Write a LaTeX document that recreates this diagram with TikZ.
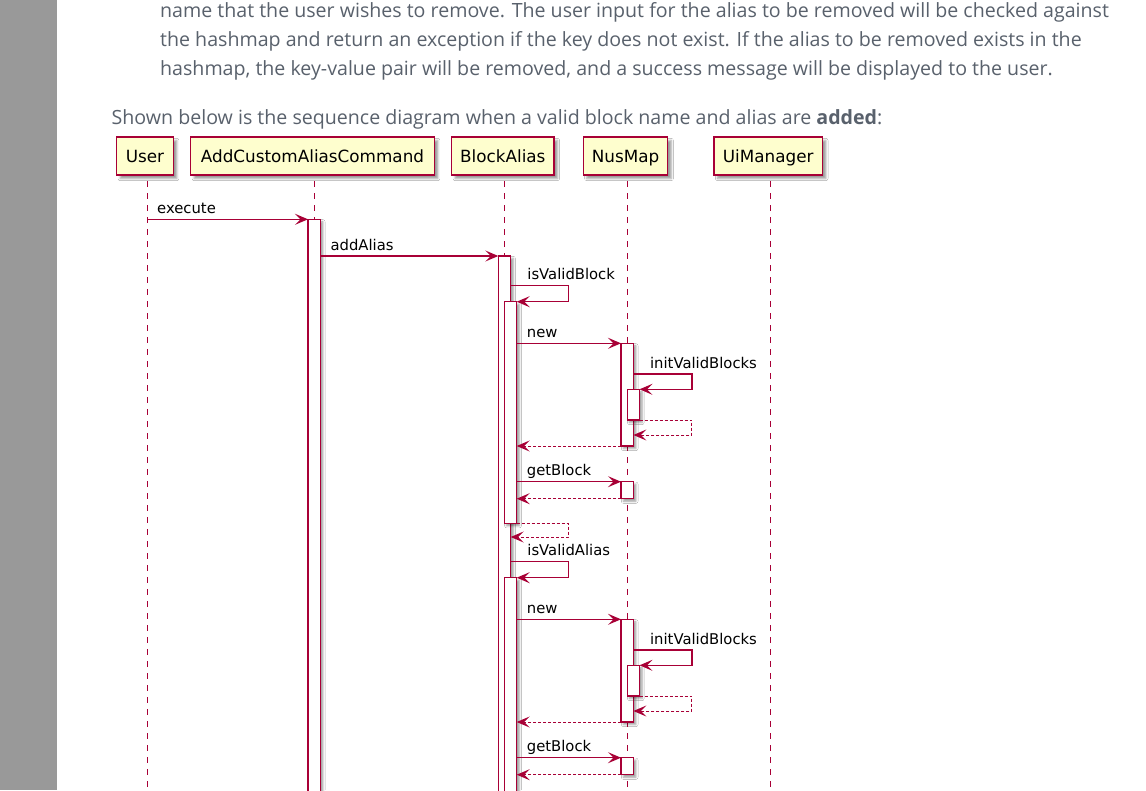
\documentclass[tikz,border=0pt]{standalone}
\usepackage{fontspec}
\setmainfont{Open Sans}
\newfontfamily\umlfont{DejaVu Sans}
\usepackage{tikz}
\usetikzlibrary{arrows.meta, calc, shadows.blur}
\definecolor{umlred}{HTML}{A80036}
\definecolor{umlfill}{HTML}{FEFECE}
\definecolor{pagegray}{HTML}{999999}
\definecolor{bodytext}{HTML}{59616C}
\tikzset{participant/.style={draw=umlred, fill=umlfill, line width=1.5pt, minimum height=38pt, inner sep=0pt, outer sep=0pt,
    text height=14pt, text depth=2pt, font=\umlfont\fontsize{16.8}{18}\selectfont, blur shadow={shadow xshift=3.5pt, shadow yshift=-3.5pt}},
  actbar/.style={draw=umlred, fill=white, line width=1.2pt, minimum width=12.4pt, inner sep=0pt, outer sep=0pt, anchor=north,
    blur shadow={shadow xshift=2.5pt, shadow yshift=-2.5pt}},
  lifeline/.style={draw=umlred, line width=1pt, dash pattern=on 6pt off 6pt, dash phase=6pt},
  msg/.style={draw=umlred, line width=1.4pt, -{Stealth[length=13pt, width=11pt, inset=5.5pt]}},
  ret/.style={msg, line width=1pt, dash pattern=on 3pt off 2pt},
  msglbl/.style={anchor=base west, inner sep=0pt, xshift=#1, yshift=6pt, font=\umlfont\fontsize{14.8}{16}\selectfont, text=black},
  msglbl/.default=9.5pt,
  bodyline/.style={anchor=base west, inner sep=0pt, text=bodytext, font=\fontsize{19.6}{22}\selectfont}}

\begin{document}
\begin{tikzpicture}[x=1pt, y=-1pt]
    \fill[white] (0,0) rectangle (1146,790);
    \fill[pagegray] (0,0) rectangle (57.3,790);

    \node[bodyline] (para1) at (160,17) {name that the user wishes to remove. The user input for the alias to be removed will be checked against};
    \node[bodyline] (para2) at (160,46) {the hashmap and return an exception if the key does not exist. If the alias to be removed exists in the};
    \node[bodyline] (para3) at (160,75) {hashmap, the key-value pair will be removed, and a success message will be displayed to the user.};
    \node[bodyline] (intro) at (111.5,124) {Shown below is the sequence diagram when a valid block name and alias are \textbf{added}:};

    \node[participant, minimum width=56.6pt] (user) at (145,156) {User};
    \node[participant, minimum width=243.6pt] (command) at (312.5,156) {AddCustomAliasCommand};
    \node[participant, minimum width=102.3pt] (blockalias) at (502.8,156) {BlockAlias};
    \node[participant, minimum width=84.4pt] (nusmap) at (625.5,156) {NusMap};
    \node[participant, minimum width=108.3pt] (uimanager) at (768.2,156) {UiManager};

    \coordinate (bot) at (0,800);
    \foreach \p in {user,command,blockalias,nusmap,uimanager}
        \draw[lifeline] ([xshift=2pt]\p.south) -- ([xshift=2pt]\p.south |- bot);

    \node[actbar, minimum height=600pt] (cmdbar) at (314.2,219.3) {};
    \node[actbar, minimum height=560pt] (aliasbar) at (504.5,256) {};

    \draw[msg] ([xshift=2pt]user.south |- cmdbar.north) node[msglbl] {execute} -- (cmdbar.north west);
    \draw[msg] (cmdbar.east |- aliasbar.north) node[msglbl] {addAlias} -- (aliasbar.north west);

    % block name check
    \begin{scope}[yshift=0pt]
    \node[actbar, minimum height=221.6pt] (checkbar) at (510.5,301.7) {};
    \node[actbar, minimum height=102.7pt] (mapbar) at (627.2,343.3) {};
    \node[actbar, minimum height=30.7pt] (initbar) at (633.3,389.3) {};
    \node[actbar, minimum height=17pt] (getbar) at (627.2,481.7) {};

    \draw[msg] ([yshift=16.4pt]checkbar.north -| aliasbar.east) node[msglbl=16pt] {isValidBlock} -- ++(57.6,0) |- (checkbar.north east);
    \draw[msg] (checkbar.east |- mapbar.north) node[msglbl] {new} -- (mapbar.north west);
    \draw[msg] ([yshift=15.3pt]initbar.north -| mapbar.east) node[msglbl=16pt] {initValidBlocks} -- ++(58.4,0) |- (initbar.north east);
    \draw[ret] (initbar.south east) -- ++(52.4,0) |- ([yshift=-15pt]initbar.south -| mapbar.east);
    \draw[ret] (mapbar.south west) -- (mapbar.south west -| checkbar.east);
    \draw[msg] (checkbar.east |- getbar.north) node[msglbl] {getBlock} -- (getbar.north west);
    \draw[ret] (getbar.south west) -- (getbar.south west -| checkbar.east);
    \draw[ret] (checkbar.south east) -- ++(51.6,0) |- ([yshift=-13.7pt]checkbar.south -| aliasbar.east);
    \end{scope}

    % alias check
    \begin{scope}[yshift=-276pt]
    \node[actbar, minimum height=240pt] (checkbar) at (510.5,301.7) {};
    \node[actbar, minimum height=102.7pt] (mapbar) at (627.2,343.3) {};
    \node[actbar, minimum height=30.7pt] (initbar) at (633.3,389.3) {};
    \node[actbar, minimum height=17pt] (getbar) at (627.2,481.7) {};

    \draw[msg] ([yshift=16.4pt]checkbar.north -| aliasbar.east) node[msglbl=16pt] {isValidAlias} -- ++(57.6,0) |- (checkbar.north east);
    \draw[msg] (checkbar.east |- mapbar.north) node[msglbl] {new} -- (mapbar.north west);
    \draw[msg] ([yshift=15.3pt]initbar.north -| mapbar.east) node[msglbl=16pt] {initValidBlocks} -- ++(58.4,0) |- (initbar.north east);
    \draw[ret] (initbar.south east) -- ++(52.4,0) |- ([yshift=-15pt]initbar.south -| mapbar.east);
    \draw[ret] (mapbar.south west) -- (mapbar.south west -| checkbar.east);
    \draw[msg] (checkbar.east |- getbar.north) node[msglbl] {getBlock} -- (getbar.north west);
    \draw[ret] (getbar.south west) -- (getbar.south west -| checkbar.east);
    \end{scope}

    \pgfresetboundingbox
    \path[use as bounding box] (0,0) rectangle (1146,790);
\end{tikzpicture}
\end{document}
